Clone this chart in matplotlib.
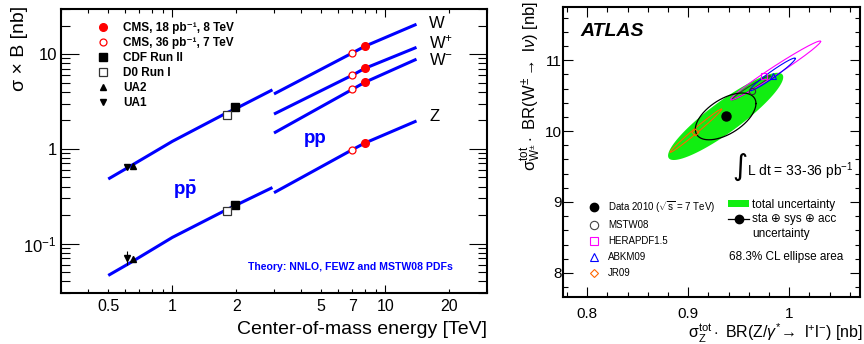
import numpy as np
import matplotlib
matplotlib.use("Agg")
import matplotlib.pyplot as plt
from matplotlib.ticker import LogLocator, FuncFormatter, MultipleLocator, NullFormatter
from matplotlib.patches import Patch
from matplotlib.lines import Line2D

plt.rcParams['font.family'] = ['Liberation Sans', 'DejaVu Sans']
plt.rcParams['mathtext.fontset'] = 'custom'
plt.rcParams['mathtext.rm'] = 'Liberation Sans'
plt.rcParams['mathtext.it'] = 'Liberation Sans:italic'
plt.rcParams['mathtext.bf'] = 'Liberation Sans:bold'

# ---------------- left panel data (sigma x B in nb vs sqrt(s) in TeV) ----------------
# theory, p-pbar branch
e_ppbar = [0.5, 0.63, 1.0, 1.8, 1.96, 2.95]
w_ppbar = [0.48, 0.65, 1.2, 2.4, 2.62, 4.2]
z_ppbar = [0.046, 0.062, 0.116, 0.228, 0.25, 0.39]
# theory, p-p branch
e_pp = [3.0, 7.0, 8.0, 14.0]
w_pp = [3.8, 10.3, 12.1, 20.7]
wp_pp = [2.33, 6.0, 7.07, 11.8]
wm_pp = [1.47, 4.25, 5.04, 8.85]
z_pp = [0.344, 0.98, 1.15, 1.97]

# measurements
cms8_e = [8.0, 8.0, 8.0, 8.0]
cms8_v = [12.1, 7.07, 5.04, 1.15]
cms7_e = [7.0, 7.0, 7.0, 7.0]
cms7_v = [10.3, 6.0, 4.25, 0.98]
cdf_e = [1.96, 1.96]
cdf_v = [2.77, 0.255]
d0_e = [1.8, 1.8]
d0_v = [2.28, 0.219]
ua2_e = [0.65, 0.65]
ua2_v = [0.66, 0.068]
ua2_err = [0.02, 0.005]
ua1_e = [0.61, 0.61]
ua1_v = [0.64, 0.0707]
ua1_err = [0.02, 0.012]

# ---------------- right panel data (ATLAS W vs Z, nb) ----------------
data_z, data_w = 0.937, 10.207
# ellipses: centre x, centre y, half extent x, half extent y, correlation
ell_total = (0.937, 10.207, 0.057, 0.615, 0.9)
ell_exp = (0.937, 10.207, 0.030, 0.33, 0.55)
pdf_names = ['MSTW08', 'HERAPDF1.5', 'ABKM09', 'JR09']
pdf_pts_z = [0.963, 0.975, 0.984, 0.907]
pdf_pts_w = [10.57, 10.78, 10.77, 9.99]
pdf_ells = [(0.962, 10.61, 0.019, 0.17, 0.98),
            (0.9865, 10.855, 0.0445, 0.415, 0.985),
            (0.9835, 10.80, 0.0225, 0.23, 0.97),
            (0.9075, 10.005, 0.0255, 0.305, 0.99)]
pdf_colors = ['#333333', '#ff00ff', '#0000ff', '#ff6600']
pdf_markers = ['o', 's', '^', 'D']


def ellipse_xy(cx, cy, ex, ey, rho, n=300):
    t = np.linspace(0, 2 * np.pi, n)
    x = cx + ex * np.cos(t)
    y = cy + ey * (rho * np.cos(t) + np.sqrt(1 - rho ** 2) * np.sin(t))
    return x, y


W, H = 864, 344
fig = plt.figure(figsize=(W / 100, H / 100), dpi=100)


def fx(px):
    return px / W


def fy(py):
    return 1 - py / H


# ================= left panel =================
ax = fig.add_axes([fx(61), fy(293), (487 - 61) / W, (293 - 9) / H])
ax.set_xscale('log')
ax.set_yscale('log')
ax.set_xlim(0.3, 30)
ax.set_ylim(0.03, 30)

blue = '#0000ff'
for yv in (w_ppbar, z_ppbar):
    ax.plot(e_ppbar, yv, color=blue, lw=2.2, solid_capstyle='butt')
for yv in (w_pp, wp_pp, wm_pp, z_pp):
    ax.plot(e_pp, yv, color=blue, lw=2.2, solid_capstyle='butt')

h_cms8, = ax.plot(cms8_e, cms8_v, 'o', color='red', ms=5.5, ls='none')
h_cms7, = ax.plot(cms7_e, cms7_v, 'o', mfc='white', mec='red', mew=0.9, ms=5, ls='none')
h_cdf, = ax.plot(cdf_e, cdf_v, 's', color='black', ms=5.5, ls='none')
h_d0, = ax.plot(d0_e, d0_v, 's', mfc='white', mec='#333333', mew=0.9, ms=5.5, ls='none')
ax.errorbar(ua2_e, ua2_v, yerr=ua2_err, fmt='^', color='black', ms=5, elinewidth=0.8, capsize=0)
ax.errorbar(ua1_e, ua1_v, yerr=ua1_err, fmt='v', color='black', ms=5, elinewidth=0.8, capsize=0)
h_ua2 = Line2D([], [], marker='^', color='black', ms=5, ls='none')
h_ua1 = Line2D([], [], marker='v', color='black', ms=5, ls='none')

leg = ax.legend([h_cms8, h_cms7, h_cdf, h_d0, h_ua2, h_ua1],
                ['CMS, 18 pb⁻¹, 8 TeV', 'CMS, 36 pb⁻¹, 7 TeV',
                 'CDF Run II', 'D0 Run I', 'UA2', 'UA1'],
                loc='upper left', bbox_to_anchor=(fx(97), fy(22)), bbox_transform=fig.transFigure,
                frameon=False, borderpad=0, borderaxespad=0, handlelength=1.0,
                handletextpad=1.2, labelspacing=0.26, prop={'weight': 'bold', 'size': 8.5})

for s, yy in (('W', 23), (r'W$^{+}$', 42), (r'W$^{-}$', 60), ('Z', 117)):
    fig.text(fx(429), fy(yy), s, fontsize=12, ha='left', va='center')
fig.text(fx(315), fy(138), 'pp', color=blue, fontsize=13.5, weight='bold', ha='center', va='center')
fig.text(fx(185), fy(190), r'p$\mathbf{\bar{p}}$', color=blue, fontsize=13.5, weight='bold',
         ha='center', va='center')
fig.text(fx(248), fy(267), 'Theory: NNLO, FEWZ and MSTW08 PDFs', color=blue, fontsize=7.6,
         weight='bold', ha='left', va='center')

ax.xaxis.set_major_locator(LogLocator(base=10, subs=(1.0,)))
ax.xaxis.set_minor_locator(LogLocator(base=10, subs=np.arange(2, 10)))
ax.xaxis.set_major_formatter(FuncFormatter(lambda v, p: '%g' % v))
ax.xaxis.set_minor_formatter(FuncFormatter(
    lambda v, p: ('%g' % v) if any(abs(v - k) < 1e-6 * k for k in (0.5, 2, 5, 7, 20)) else ''))
ax.yaxis.set_major_locator(LogLocator(base=10, subs=(1.0,)))
ax.yaxis.set_minor_locator(LogLocator(base=10, subs=np.arange(2, 10)))
ax.yaxis.set_major_formatter(FuncFormatter(
    lambda v, p: {0.1: r'10$^{-1}$', 1.0: '1', 10.0: '10'}.get(round(v, 3), '')))
ax.yaxis.set_minor_formatter(NullFormatter())

ax.tick_params(which='both', direction='in', top=True, right=True, width=0.8)
ax.tick_params(axis='x', which='major', length=6, labelsize=11.5, pad=4)
ax.tick_params(axis='x', which='minor', length=3, labelsize=11.5, pad=4)
ax.tick_params(axis='y', which='major', length=13, labelsize=12, pad=3)
ax.tick_params(axis='y', which='minor', length=6.5)
for sp in ax.spines.values():
    sp.set_linewidth(1.5)

fig.text(fx(19), fy(6), 'σ × B [nb]', rotation=90, ha='center', va='top', fontsize=14)
fig.text(fx(487), fy(329), 'Center-of-mass energy [TeV]', ha='right', va='center', fontsize=14)

# ================= right panel =================
ax2 = fig.add_axes([fx(563), fy(297), (860 - 563) / W, (297 - 7) / H])
ax2.set_xlim(0.776, 1.070)
ax2.set_ylim(7.66, 11.75)

gx, gy = ellipse_xy(*ell_total)
ax2.fill(gx, gy, color='#11ee11', lw=0, zorder=1)
for (e, c) in zip(pdf_ells, pdf_colors):
    xx, yy = ellipse_xy(*e)
    ax2.plot(xx, yy, color=c, lw=0.8, zorder=2)
bx, by = ellipse_xy(*ell_exp)
ax2.plot(bx, by, color='black', lw=0.9, zorder=3)
for zz, ww, c, m in zip(pdf_pts_z, pdf_pts_w, pdf_colors, pdf_markers):
    ax2.plot(zz, ww, marker=m, mfc='none', mec=c, mew=0.8, ms=4.5 if m != 'D' else 3.5, ls='none', zorder=4)
ax2.plot(data_z, data_w, 'o', color='black', ms=6.5, zorder=5)

h_data = Line2D([], [], marker='o', color='black', ms=6, ls='none')
h_pdfs = [Line2D([], [], marker=m, mfc='none', mec=c if c != '#333333' else '#444444', mew=0.8,
                 ms=6 if m != 'D' else 4.5, ls='none')
          for m, c in zip(pdf_markers, pdf_colors)]
leg1 = ax2.legend([h_data] + h_pdfs, [r'Data 2010 ($\sqrt{\mathrm{s}}$ = 7 TeV)'] + pdf_names,
                  loc='upper left', bbox_to_anchor=(fx(588), fy(199)), bbox_transform=fig.transFigure,
                  frameon=False, borderpad=0, borderaxespad=0, handlelength=1.2,
                  handletextpad=0.85, labelspacing=0.6, prop={'size': 7})
ax2.add_artist(leg1)
h_tot = Patch(facecolor='#11ee11', edgecolor='none')
h_exp = Line2D([], [], marker='o', color='black', ms=6, lw=0.9)
h_blank = Line2D([], [], ls='none')
ax2.legend([h_tot, h_exp, h_blank], ['total uncertainty', 'sta ⊕ sys ⊕ acc', 'uncertainty'],
           loc='upper left', bbox_to_anchor=(fx(728), fy(199)), bbox_transform=fig.transFigure,
           frameon=False, borderpad=0, borderaxespad=0, handlelength=1.8, handleheight=0.5,
           handletextpad=0.25, labelspacing=0.2, prop={'size': 8.5})
fig.text(fx(729), fy(257), '68.3% CL ellipse area', fontsize=8.5, ha='left', va='center')

fig.text(fx(580), fy(31), 'ATLAS', fontsize=14, weight='bold', style='italic', ha='left', va='center')
fig.text(fx(740), fy(167), '∫', fontsize=21, ha='center', va='center', family='DejaVu Sans')
fig.text(fx(747), fy(171), r'L dt = 33-36 pb$^{-1}$', fontsize=10, ha='left', va='center')

ax2.xaxis.set_major_locator(MultipleLocator(0.1))
ax2.xaxis.set_minor_locator(MultipleLocator(0.02))
ax2.yaxis.set_major_locator(MultipleLocator(1))
ax2.yaxis.set_minor_locator(MultipleLocator(0.2))
ax2.xaxis.set_major_formatter(FuncFormatter(lambda v, p: '%g' % round(v, 3)))
ax2.tick_params(which='both', direction='in', top=True, right=True, width=0.8, labelsize=11)
ax2.tick_params(which='major', length=7)
ax2.tick_params(which='minor', length=3.5)
ax2.tick_params(axis='x', pad=7)
ax2.tick_params(axis='y', pad=1)
for sp in ax2.spines.values():
    sp.set_linewidth(1.5)

fig.text(fx(531), fy(1), r'$\mathrm{\sigma}_{\mathrm{W^{\pm}}}^{\mathrm{tot}}\cdot$ BR(W$^{\pm}\rightarrow$ l$\nu$) [nb]',
         rotation=90, ha='center', va='top', fontsize=12)
fig.text(fx(863), fy(333), r'$\mathrm{\sigma}_{\mathrm{Z}}^{\mathrm{tot}}\cdot$ BR(Z/$\gamma^{*}\!\rightarrow$ l$^{+}$l$^{-}$) [nb]',
         ha='right', va='center', fontsize=11.5)

fig.savefig('out.png', dpi=100)
